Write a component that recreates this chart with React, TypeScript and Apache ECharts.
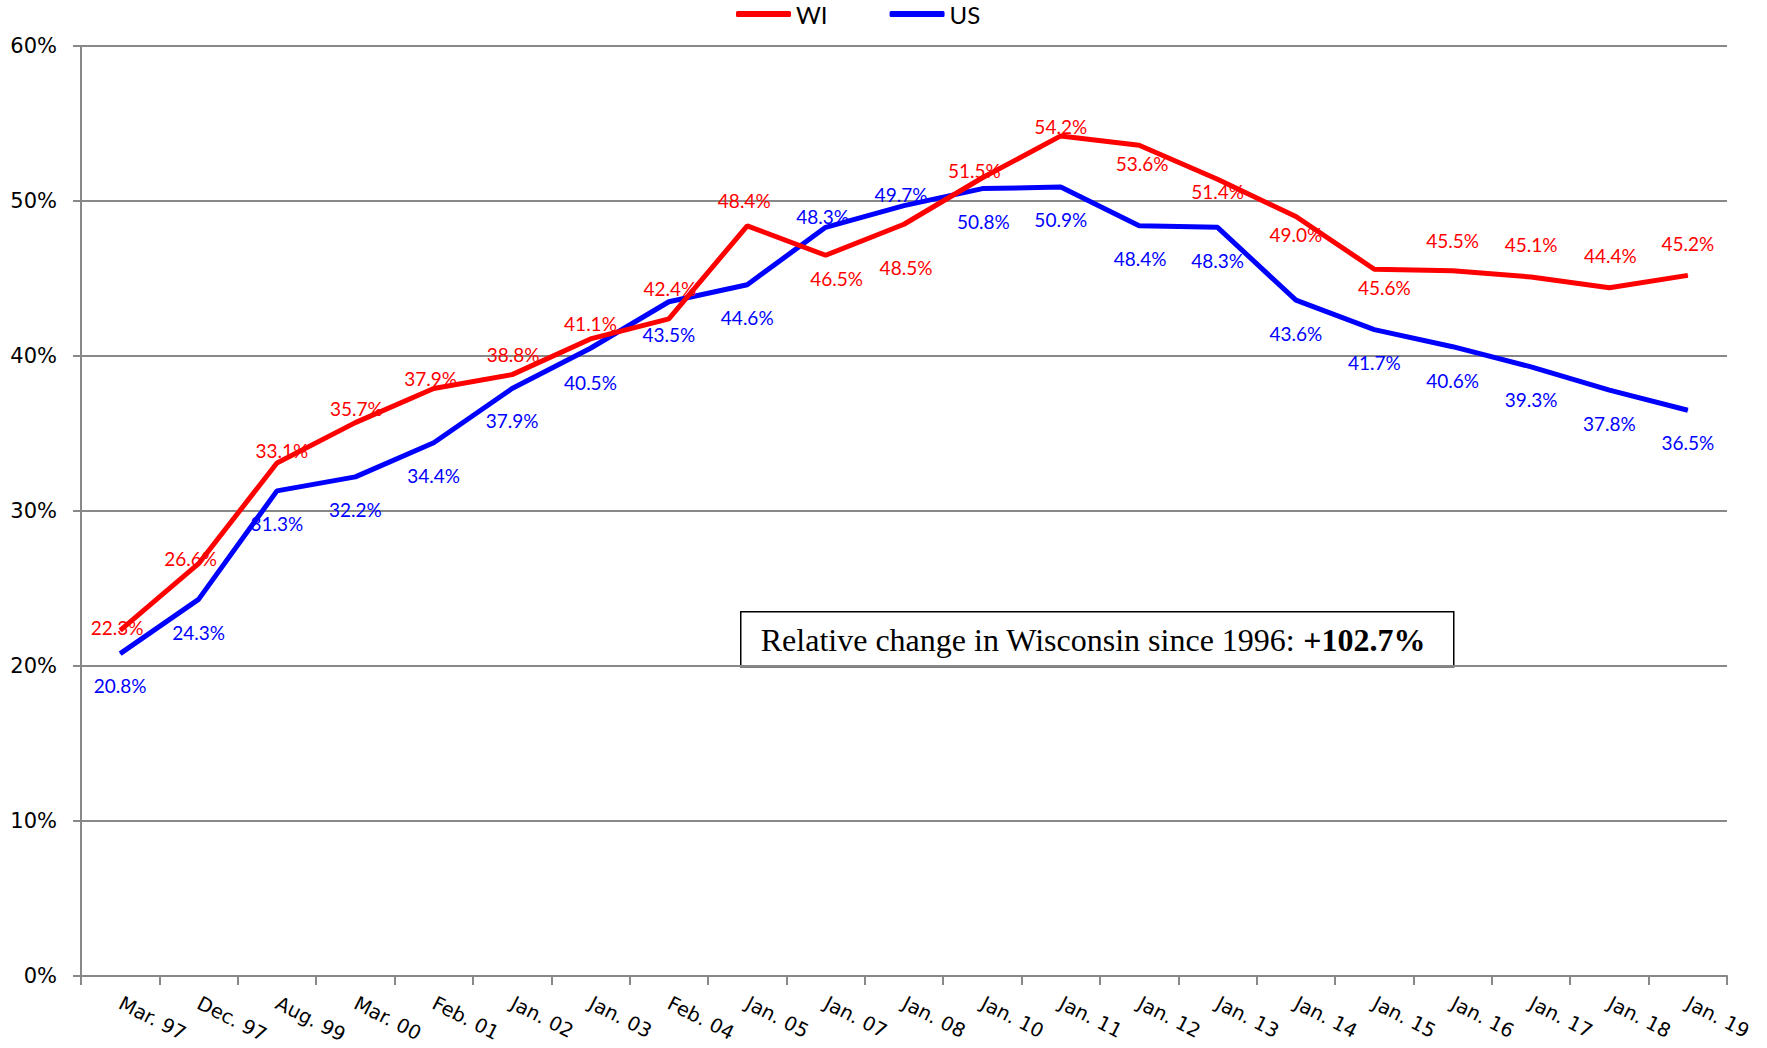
import React, { useEffect, useRef } from "react";
import * as echarts from "echarts";

const categories = [
  "Mar. 97", "Dec. 97", "Aug. 99", "Mar. 00", "Feb. 01", "Jan. 02", "Jan. 03",
  "Feb. 04", "Jan. 05", "Jan. 07", "Jan. 08", "Jan. 10", "Jan. 11", "Jan. 12",
  "Jan. 13", "Jan. 14", "Jan. 15", "Jan. 16", "Jan. 17", "Jan. 18", "Jan. 19",
];
const wiValues = [22.3, 26.6, 33.1, 35.7, 37.9, 38.8, 41.1, 42.4, 48.4, 46.5, 48.5, 51.5, 54.2, 53.6, 51.4, 49.0, 45.6, 45.5, 45.1, 44.4, 45.2];
const usValues = [20.8, 24.3, 31.3, 32.2, 34.4, 37.9, 40.5, 43.5, 44.6, 48.3, 49.7, 50.8, 50.9, 48.4, 48.3, 43.6, 41.7, 40.6, 39.3, 37.8, 36.5];
const yTicks = [0, 10, 20, 30, 40, 50, 60];
const boxText = "Relative change in Wisconsin since 1996: ";
const boxValue = "+102.7%";

// label placement (style only)
const wiLabelDx = [-3, -8, 5, 1, -3, 1, 0, 1, -3, 11, 2, -8, 0, 3, 0, 0, 10, 0, 0, 1, 0];
const wiLabelDy = [-3, -5, -12, -14, -10, -20, -15, -30, -25, 23, 43, -7, -9, 18, 12, 18, 18, -30, -32, -32, -32];
const usLabelDx = [0, 0, 0, 0, 0, 0, 0, 0, 0, -3, -3, 1, 0, 1, 0, 0, 0, 0, 0, 0, 0];
const usLabelDy = [32, 33, 33, 33, 33, 32, 34, 33, 33, -11, -11, 33, 32, 33, 33, 33, 33, 34, 33, 33, 32];

export default function App() {
  const ref = useRef<HTMLDivElement>(null);
  useEffect(() => {
    document.body.style.margin = "0";
    if (!ref.current) return;
    const chart = echarts.init(ref.current, undefined, { renderer: "svg" });
    const mk = (vals: number[], dx: number[], dy: number[]) =>
      vals.map((v, i) => ({
        value: v,
        label: { offset: [dx[i], dy[i]] },
      }));
    const labelBase = (color: string) => ({
      show: true,
      position: "inside",
      color,
      fontFamily: "Lato",
      fontSize: 19,
      formatter: (p: any) => Number(p.value).toFixed(1) + "%",
    });
    chart.setOption({
      animation: false,
      backgroundColor: "#ffffff",
      grid: { left: 81, right: 40, top: 46, bottom: 72, containLabel: false },
      legend: {
        top: 2,
        left: 736,
        padding: 0,
        icon: "roundRect",
        itemWidth: 55,
        itemHeight: 6,
        itemGap: 62,
        textStyle: { fontFamily: "Lato", fontSize: 24, color: "#000" },
        data: ["WI", "US"],
      },
      xAxis: {
        type: "category",
        data: categories,
        boundaryGap: true,
        axisLine: { lineStyle: { color: "#888888", width: 2 } },
        axisTick: { show: true, length: 9, lineStyle: { color: "#888888", width: 2 } },
        axisLabel: {
          rotate: -27,
          interval: 0,
          margin: 26,
          color: "#000",
          fontFamily: "DejaVu Sans",
          fontSize: 19.5,
        },
      },
      yAxis: {
        type: "value",
        min: yTicks[0],
        max: yTicks[yTicks.length - 1],
        interval: 10,
        axisLine: { show: true, lineStyle: { color: "#888888", width: 2 } },
        axisTick: { show: true, length: 8, lineStyle: { color: "#888888", width: 2 } },
        splitLine: { lineStyle: { color: "#888888", width: 2 } },
        axisLabel: {
          formatter: "{value}%",
          margin: 24,
          color: "#000",
          fontFamily: "DejaVu Sans",
          fontSize: 21,
        },
      },
      series: [
        {
          name: "WI",
          type: "line",
          data: mk(wiValues, wiLabelDx, wiLabelDy),
          color: "#ff0000",
          lineStyle: { color: "#ff0000", width: 5 },
          symbol: "circle",
          symbolSize: 1,
          showSymbol: true,
          itemStyle: { color: "#ff0000" },
          label: labelBase("#ff0000"),
          z: 3,
        },
        {
          name: "US",
          type: "line",
          data: mk(usValues, usLabelDx, usLabelDy),
          color: "#0000ff",
          lineStyle: { color: "#0000ff", width: 5 },
          symbol: "circle",
          symbolSize: 1,
          showSymbol: true,
          itemStyle: { color: "#0000ff" },
          label: labelBase("#0000ff"),
          z: 2,
        },
      ],
      graphic: [
        {
          type: "group",
          left: 740,
          top: 611,
          z: 10,
          children: [
            {
              type: "rect",
              shape: { x: 0, y: 0, width: 713, height: 55 },
              style: { fill: "#ffffff", stroke: "#000000", lineWidth: 1.5 },
            },
            {
              type: "text",
              x: 20,
              y: 28,
              style: {
                text: "{n|" + boxText + "}{b|" + boxValue + "}",
                verticalAlign: "middle",
                rich: {
                  n: { fontFamily: "Liberation Serif", fontSize: 32, fill: "#000" },
                  b: { fontFamily: "Liberation Serif", fontSize: 32, fontWeight: "bold", fill: "#000" },
                },
              },
            },
          ],
        },
      ],
    });
    return () => chart.dispose();
  }, []);
  return <div ref={ref} style={{ width: 1767, height: 1048 }} />;
}
